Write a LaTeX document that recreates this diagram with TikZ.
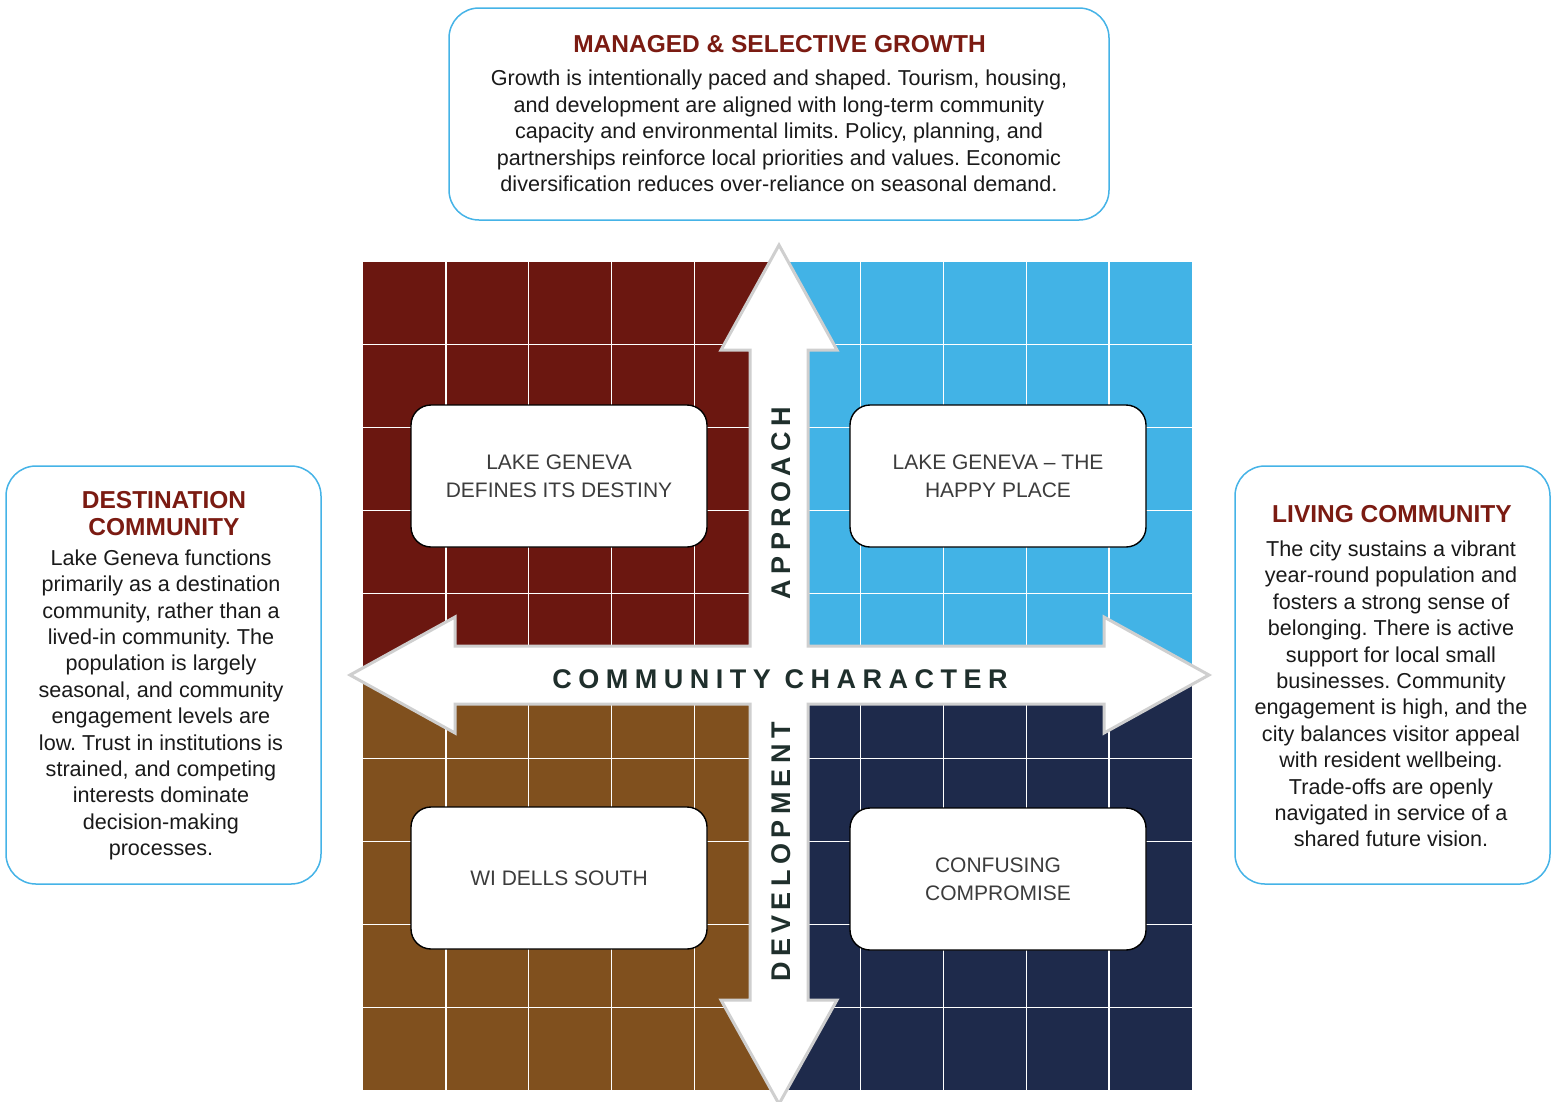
\documentclass[tikz,border=0pt]{standalone}
\usepackage{fontspec}
\setmainfont{Liberation Sans}
\definecolor{qtl}{HTML}{6B1710}
\definecolor{qtr}{HTML}{42B3E6}
\definecolor{qbl}{HTML}{80501E}
\definecolor{qbr}{HTML}{1E2A4B}
\definecolor{ttlred}{HTML}{7B1B12}
\definecolor{boxblue}{HTML}{45B3E7}
\definecolor{arrgray}{HTML}{CFCFCF}
\definecolor{axiscol}{HTML}{1F2F2C}
\definecolor{txt}{HTML}{1A1A1A}
\tikzset{
  gridline/.style={white, line width=1.3pt},
  bigarrow/.style={fill=white, draw=arrgray, line width=3pt, line join=miter},
  axislabel/.style={font=\fontsize{27}{30}\selectfont\bfseries\addfontfeature{LetterSpace=20}, text=axiscol, inner sep=0pt},
  innerbox/.style={draw=black, fill=white, line width=1.4pt, rounded corners=20pt, minimum width=296pt, minimum height=142pt, align=center, text=txt!85, font=\fontsize{21}{28}\selectfont},
  outerbox/.style={draw=boxblue, line width=1.5pt, rounded corners=30pt, fill=white},
  ttl/.style={text=ttlred, font=\fontsize{24.5}{27}\selectfont\bfseries, align=center, inner sep=0pt},
  body/.style={text=txt, font=\fontsize{21.6}{26.4}\selectfont\frenchspacing, align=center, inner sep=0pt}
}
\begin{document}
\frenchspacing
\begin{tikzpicture}[x=1pt,y=-1pt]
\useasboundingbox (0,0) rectangle (1557,1101);
\clip (0,0) rectangle (1557,1101);
% quadrants
\fill[qtl] (363,262) rectangle (778,677);
\fill[qtr] (778,262) rectangle (1192,677);
\fill[qbl] (363,677) rectangle (778,1090);
\fill[qbr] (778,677) rectangle (1192,1090);
\foreach \i in {1,...,9} {
  \draw[gridline] ({363+\i*82.9},262) -- ({363+\i*82.9},1090);
  \draw[gridline] (363,{262+\i*82.8}) -- (1192,{262+\i*82.8});
}
% cross arrow
\draw[bigarrow] (779,245) -- (837,350) -- (808,350) -- (808,646) -- (1104,646) -- (1104,617)
  -- (1209,675) -- (1104,733) -- (1104,704) -- (808,704) -- (808,1000) -- (837,1000)
  -- (779,1104) -- (721,1000) -- (750,1000) -- (750,704) -- (455,704) -- (455,733)
  -- (350,675) -- (455,617) -- (455,646) -- (750,646) -- (750,350) -- (721,350) -- cycle;
\node[axislabel, font=\fontsize{27}{30}\selectfont\bfseries\addfontfeature{LetterSpace=24}] (cc) at (780,679) {COMMUNITY CHARACTER};
\node[axislabel, rotate=90] (ap) at (781,503) {APPROACH};
\node[axislabel, rotate=90] (dev) at (781,852) {DEVELOPMENT};
% inner boxes
\node[innerbox] (tl) at (559,476) {LAKE GENEVA\\DEFINES ITS DESTINY};
\node[innerbox] (tr) at (998,476) {LAKE GENEVA -- THE\\HAPPY PLACE};
\node[innerbox] (bl) at (559,878) {WI DELLS SOUTH};
\node[innerbox] (br) at (998,879) {CONFUSING\\COMPROMISE};
% outer boxes
\node[outerbox, minimum width=660pt, minimum height=212pt] (topbox) at (779,114) {};
\node[outerbox, minimum width=315pt, minimum height=418pt] (leftbox) at (163.5,675) {};
\node[outerbox, minimum width=315pt, minimum height=418pt] (rightbox) at (1392.5,675) {};
\node[ttl] (toptitle) at (779.5,44) {MANAGED \& SELECTIVE GROWTH};
\node[body] (topbody) at (779,131) {Growth is intentionally paced and shaped. Tourism, housing,\\
and development are aligned with long-term community\\
capacity and environmental limits. Policy, planning, and\\
partnerships reinforce local priorities and values. Economic\\
diversification reduces over-reliance on seasonal demand.};
\node[ttl] (lefttitle) at (164,514) {DESTINATION\\COMMUNITY};
\node[body] (leftbody) at (161,705) {Lake Geneva functions\\
primarily as a destination\\
community, rather than a\\
lived-in community. The\\
population is largely\\
seasonal, and community\\
engagement levels are\\
low. Trust in institutions is\\
strained, and competing\\
interests dominate\\
decision-making\\
processes.};
\node[ttl] (righttitle) at (1392,514) {LIVING COMMUNITY};
\node[body] (rightbody) at (1391,694) {The city sustains a vibrant\\
year-round population and\\
fosters a strong sense of\\
belonging. There is active\\
support for local small\\
businesses. Community\\
engagement is high, and the\\
city balances visitor appeal\\
with resident wellbeing.\\
Trade-offs are openly\\
navigated in service of a\\
shared future vision.};
\end{tikzpicture}
\end{document}
